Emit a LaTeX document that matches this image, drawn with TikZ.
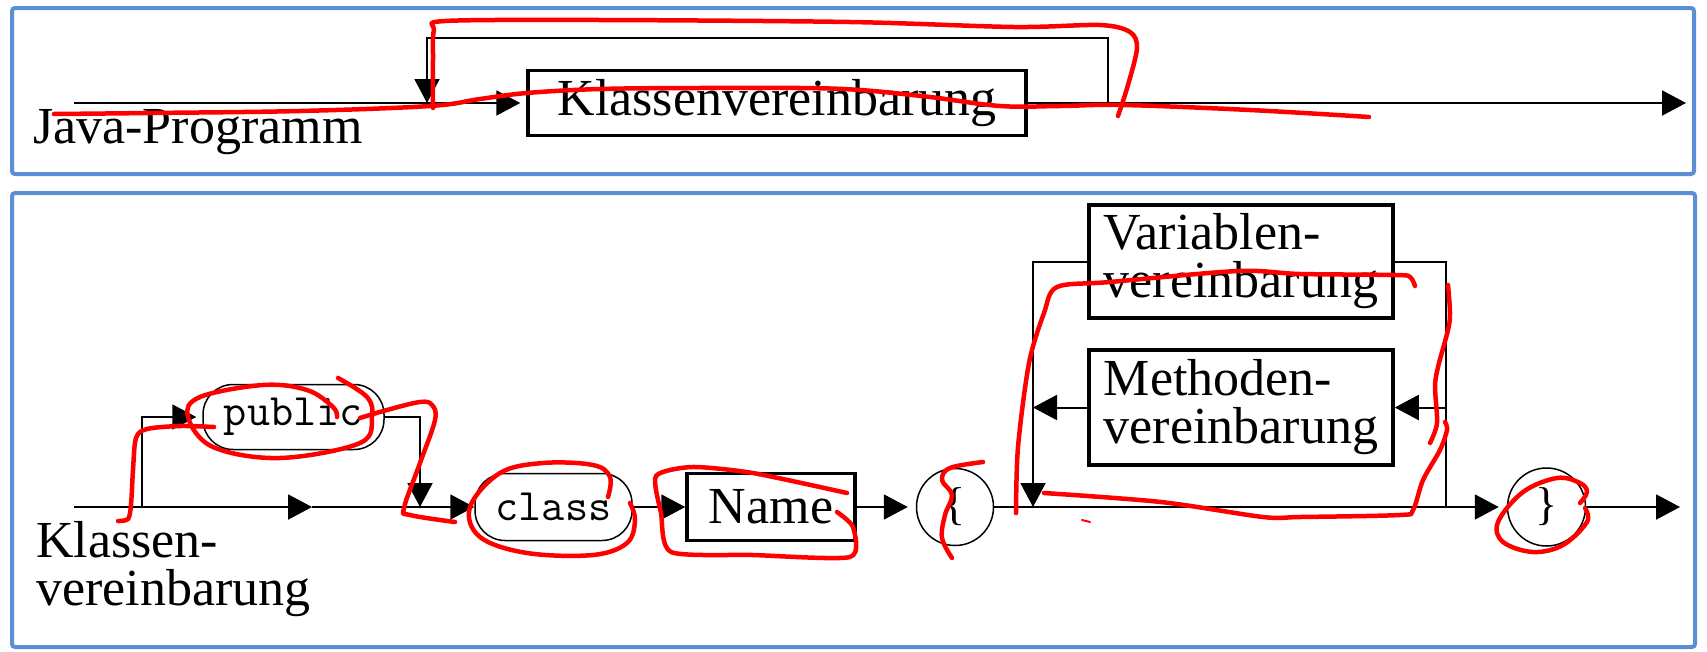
\documentclass[tikz,border=0pt]{standalone}
\usepackage{fontspec}
\setmainfont{Liberation Serif}
\usetikzlibrary{arrows.meta}
\definecolor{panelblue}{RGB}{91,142,213}
\tikzset{
  syn/.style={line width=2pt},
  arr/.style={syn, -{Triangle[length=24pt,width=25pt]}},
  ntbox/.style={draw, line width=3.5pt, inner sep=0pt, align=left},
  kwbox/.style={draw, line width=1.5pt, rounded corners=30pt, inner sep=0pt,
    font=\fontsize{45}{48}\selectfont\ttfamily},
  termcirc/.style={draw, circle, line width=1.5pt, inner sep=0pt, minimum size=77pt,
    font=\fontsize{46}{48}\selectfont},
  lbl/.style={inner sep=0pt, align=left},
  redink/.style={red, line width=4.5pt, line cap=round, line join=round},
  panel/.style={panelblue, line width=4pt, rounded corners=3pt}
}
\begin{document}
\begin{tikzpicture}[x=1pt, y=-1pt, font=\fontsize{52}{48}\selectfont]
            \useasboundingbox (0,0) rectangle (1707,651);

            % 两个蓝色外框
            \draw[panel] (12,8) rectangle (1694,174);
            \draw[panel] (12,193) rectangle (1695,647);

            % 上图: Java-Programm
            \node[lbl, anchor=base west] (jp) at (33,143) {Java-Programm};
            \node[ntbox, minimum width=498pt, minimum height=65pt] (kv) at (777,103) {Klassenvereinbarung};
            \coordinate (ts) at (74,103);
            \coordinate (tl) at (427,103);
            \coordinate (tr) at (1108,103);
            \coordinate (te) at (1686,103);
            \coordinate (ttop) at (0,38);

            \draw[arr, shorten >=6pt] (ts) -- (kv.west);
            \draw[arr] (kv.east) -- (te);
            \draw[arr] (tr) -- (tr |- ttop) -| (tl); % 回路

            % 下图: Klassenvereinbarung
            \node[lbl, anchor=north west] (kl) at (36,521) {Klassen-\\vereinbarung};
            \node[kwbox, minimum width=181pt, minimum height=65pt] (pub) at (293.5,417) {public};
            \node[kwbox, minimum width=157pt, minimum height=67pt] (cls) at (553.5,507) {class};
            \node[ntbox, minimum width=168pt, minimum height=67pt] (nm) at (771,507) {Name};
            \node[termcirc] (lb) at (955,507) {\{};
            \node[ntbox, minimum width=304pt, minimum height=113pt] (var) at (1241,261.5) {Variablen-\\vereinbarung};
            \node[ntbox, minimum width=304pt, minimum height=115pt] (met) at (1241,407.5) {Methoden-\\vereinbarung};
            \node[termcirc, minimum size=78pt] (rb) at (1546.5,507) {\}};

            \coordinate (bs) at (74,507);
            \coordinate (b1) at (142,507);
            \coordinate (bm) at (312,507);
            \coordinate (b2) at (420,507);
            \coordinate (vl) at (1033,507);
            \coordinate (vr) at (1446,507);
            \coordinate (be) at (1680,507);

            % 主线
            \draw[arr] (bs) -- (bm);
            \draw[arr] (bm) -- (cls.west);
            \draw[arr] (cls.east) -- (nm.west);
            \draw[arr, shorten >=8pt] (nm.east) -- (lb.west);
            \draw[arr, shorten >=8pt] (lb.east) -- (rb.west);
            \draw[arr] (rb.east) -- (be);

            % public 分支
            \draw[arr, shorten >=6pt] (b1) |- (pub.west);
            \draw[arr] (pub.east) -| (b2);

            % 循环部分
            \draw[syn] (vr) |- (var.east);
            \draw[arr] (var.west) -| (vl);
            \draw[arr] (vr |- met.east) -- (met.east);
            \draw[arr] (met.west) -- (vl |- met.west);

            % 红色手写标记
            \draw[redink] plot[smooth, tension=0.6] coordinates {(54,114) (150,113) (300,111) (430,106) (480,99) (527,93) (600,89) (700,88) (800,88) (860,90) (930,97) (1000,106) (1060,106) (1123,105) (1250,110) (1369,117)};
            \draw[redink] plot[smooth, tension=0.5] coordinates {(433,108) (433,60) (434,30) (445,21) (600,20) (850,22) (1014,27) (1100,25) (1130,32) (1137,48) (1128,85) (1118,116)};
            \draw[redink] plot[smooth, tension=0.5] coordinates {(118,521) (128,519) (131,505) (133,470) (136,438) (147,429) (180,426) (214,427)};
            \draw[redink] plot[smooth, tension=0.6] coordinates {(338,378) (367,397) (372,417) (360,443) (280,458) (213,447) (188,417) (200,397) (263,385) (307,390) (333,407) (337,417)};
            \draw[redink] plot[smooth, tension=0.6] coordinates {(360,418) (387,410) (420,402) (432,405) (435,420) (420,463) (404,508) (410,515) (455,522)};
            \draw[redink] plot[smooth, tension=0.6] coordinates {(608,497) (610,477) (593,465) (543,463) (500,473) (470,507) (480,537) (527,553) (593,555) (627,543) (635,520) (630,503)};
            \draw[redink] plot[smooth, tension=0.4] coordinates {(847,493) (753,473) (692,467) (656,476) (661,513) (671,552) (753,555) (850,557) (853,527) (837,512)};
            \draw[redink] plot[smooth, tension=0.6] coordinates {(983,462) (950,468) (942,480) (952,495) (945,515) (942,538) (952,558)};
            \draw[redink] plot[smooth, tension=0.5] coordinates {(1016,513) (1018,447) (1029,363) (1044,313) (1057,287) (1110,282) (1238,271) (1300,274) (1396,275) (1410,277) (1415,286)};
            \draw[redink] plot[smooth, tension=0.5] coordinates {(1448,285) (1450,313) (1448,330) (1438,367) (1435,387) (1437,423) (1430,443)};
            \draw[redink] plot[smooth, tension=0.5] coordinates {(1445,422) (1447,430) (1440,450) (1423,480) (1413,510) (1400,515) (1300,517) (1263,517) (1161,502) (1044,493)};
            \draw[redink, line width=2pt] (1082,520) -- (1090,522);
            \draw[redink] plot[smooth, tension=0.6] coordinates {(1580,503) (1587,492) (1580,483) (1557,478) (1523,492) (1498,522) (1503,542) (1533,552) (1563,545) (1587,522) (1585,508)};

        \end{tikzpicture}
\end{document}
